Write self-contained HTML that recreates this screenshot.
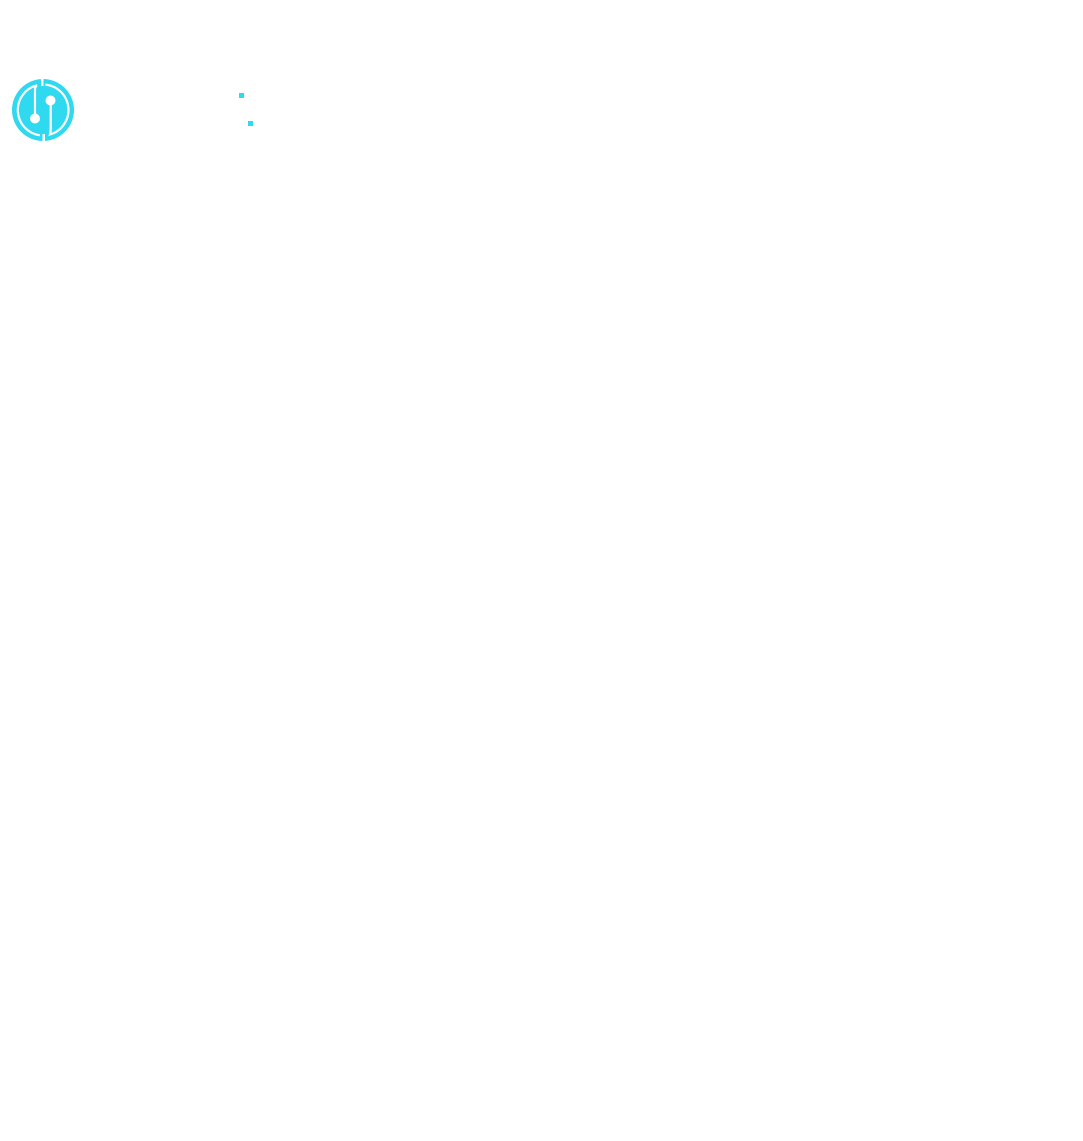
<!DOCTYPE html>
<html><head><meta charset="utf-8"><style>
html,body{margin:0;padding:0;background:#fff;width:1083px;height:1141px;overflow:hidden}
</style></head><body>
<svg width="1083" height="1141" style="position:absolute;left:0;top:0">
  <circle cx="43" cy="110" r="31" fill="#2fd9f0"/>
  <path d="M40,135.3 A25.5,25.5 0 0 1 37,85.3 Q35,86.5 35,90 L35,118" fill="none" stroke="#fff" stroke-width="2.2"/>
  <path d="M45.5,84.6 A25.5,25.5 0 0 1 50,134.5 Q50.7,132 50.7,129 L50.7,100" fill="none" stroke="#fff" stroke-width="2.2"/>
  <circle cx="35" cy="118.5" r="5" fill="#fff"/>
  <circle cx="50.5" cy="100.5" r="5" fill="#fff"/>
  <rect x="41" y="78" width="2.5" height="8" fill="#fff"/>
  <rect x="42.5" y="134" width="2.5" height="8" fill="#fff"/>
  <rect x="239" y="93" width="5" height="5" fill="#2fd9f0"/>
  <rect x="248" y="121" width="5" height="5" fill="#2fd9f0"/>
</svg>
</body></html>
